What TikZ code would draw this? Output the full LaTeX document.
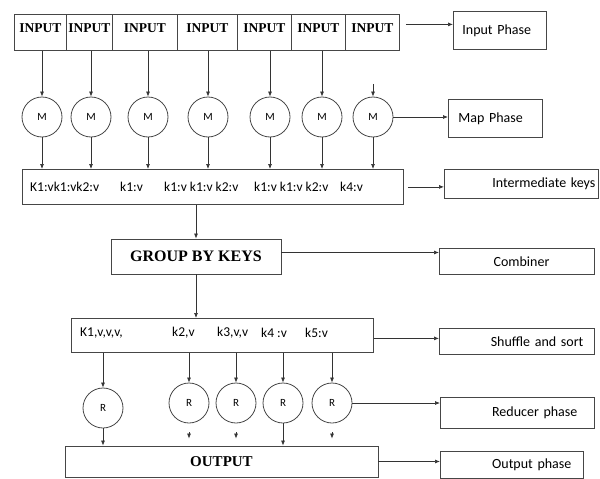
\documentclass[tikz,border=0pt]{standalone}
\usepackage{fontspec}
\setmainfont{Liberation Serif}
\newfontfamily\calib{Carlito}
\usepackage{xcolor}
\definecolor{lineclr}{RGB}{70,70,70}
\usepackage{tikz}
\usetikzlibrary{arrows.meta,positioning,calc}
\tikzset{
  mr_cell/.style={rectangle,draw=lineclr,line width=0.8pt,
    font=\fontsize{13.5}{14}\selectfont\bfseries,
    inner xsep=0pt,inner ysep=4pt,
    text height=14pt,text depth=14pt,
    minimum height=36pt,anchor=north west},
  mr_circ/.style={circle,draw=lineclr,line width=0.8pt,
    minimum size=40pt,inner sep=0pt,
    font=\calib\fontsize{11}{12}\selectfont},
  mr_box/.style={rectangle,draw=lineclr,line width=0.8pt,
    inner sep=0pt,anchor=north west},
  mr_key/.style={inner sep=0pt,anchor=west,
    font=\calib\fontsize{13.5}{15}\selectfont},
  mr_bold/.style={rectangle,draw=lineclr,line width=0.8pt,
    inner sep=0pt,font=\bfseries},
  mr_phase/.style={rectangle,draw=lineclr,line width=0.8pt,
    inner ysep=0pt,anchor=north west,
    font=\calib\fontsize{14}{16}\selectfont},
  arr/.style={-{Latex[length=5pt,width=4pt]},line width=0.7pt,draw=black!80},
}
\begin{document}
\begin{tikzpicture}[x=1pt,y=-1pt]
  \useasboundingbox (0,0) rectangle (600,479);

  \foreach \i/\xa/\xb in {1/14/66,2/66/112,3/112/177,4/177/237,
                          5/237/291,6/291/345,7/345/399}
    \node[mr_cell,minimum width={(\xb-\xa)*1pt}] (in\i) at (\xa,14) {INPUT};

  \foreach \i/\x in {1/42,2/91,3/148,4/208,5/270,6/322,7/373}
    \node[mr_circ] (m\i) at (\x,117) {M};

  \node[mr_box,minimum width=381pt,minimum height=35pt] (keys) at (22,169) {};
  \node[mr_key] (kt1) at (30,187)  {K1:vk1:vk2:v};
  \node[mr_key] (kt2) at (120,187) {k1:v};
  \node[mr_key] (kt3) at (164,187) {k1:v k1:v k2:v};
  \node[mr_key] (kt4) at (254,187) {k1:v k1:v k2:v};
  \node[mr_key] (kt5) at (340,187) {k4:v};

  \node[mr_bold,minimum width=170pt,minimum height=35pt,
        font=\fontsize{16}{18}\selectfont\bfseries] (group) at (196,256.5)
    {GROUP BY KEYS};

  \node[mr_box,minimum width=302pt,minimum height=34pt] (shuffle) at (71,318) {};
  \node[mr_key] (st1) at (80,333)  {K1,v,v,v,};
  \node[mr_key] (st2) at (172,333) {k2,v};
  \node[mr_key] (st3) at (217,333) {k3,v,v};
  \node[mr_key] (st4) at (261,333) {k4 :v};
  \node[mr_key] (st5) at (305,333) {k5:v};

  \node[mr_circ] (r1) at (103,408) {R};
  \foreach \i/\x in {2/189,3/236,4/283,5/332}
    \node[mr_circ] (r\i) at (\x,403) {R};

  \node[mr_bold,minimum width=313pt,minimum height=31pt,
        font=\fontsize{15}{17}\selectfont\bfseries] (output) at (221.5,461.5)
    {OUTPUT};

  \node[mr_phase,minimum height=38pt,text width=75pt,inner xsep=9pt,align=left]
    (inph) at (453,11) {Input Phase};
  \node[mr_phase,minimum height=38pt,text width=74pt,inner xsep=10pt,align=left]
    (mapph) at (448,99) {Map Phase};
  \node[mr_phase,minimum height=29pt,text width=148pt,inner xsep=3pt,align=right]
    (interph) at (444,169) {Intermediate keys};
  \node[mr_phase,minimum height=26pt,text width=65pt,inner xsep=45pt,align=right]
    (comb) at (439,248) {Combiner};
  \node[mr_phase,minimum height=26pt,text width=133pt,inner xsep=11pt,align=right]
    (sortph) at (439,328) {Shuffle and sort};
  \node[mr_phase,minimum height=31pt,text width=120pt,inner xsep=17pt,align=right]
    (redph) at (440,397) {Reducer phase};
  \node[mr_phase,minimum height=27pt,text width=119pt,inner xsep=12pt,align=right]
    (outph) at (440,451) {Output phase};

  \foreach \i in {1,...,6}
    \draw[arr] (m\i |- in\i.south) -- (m\i);
  \draw[arr,shorten <=33pt] (m7 |- in7.south) -- (m7);
  \foreach \i in {1,...,7}
    \draw[arr] (m\i) -- (m\i |- keys.north);
  \draw[arr] (group |- keys.south) -- (group);
  \draw[arr] (group) -- (group |- shuffle.north);
  \foreach \i in {1,...,5}
    \draw[arr] (r\i |- shuffle.south) -- (r\i);
  \draw[arr] (r1) -- (r1 |- output.north);
  \draw[arr] (r4) -- (r4 |- output.north);
  \foreach \i in {2,3,5}
    \draw[arr,shorten <=9pt,shorten >=7pt] (r\i) -- (r\i |- output.north);

  \draw[arr,shorten <=6pt] ([yshift=8pt]in7.east) -- ([yshift=8pt]in7.east -| inph.west);
  \draw[arr] (m7) -- (m7 -| mapph.west);
  \draw[arr,shorten <=4pt] (keys) -- (keys -| interph.west);
  \draw[arr] ([yshift=4pt]group.east) -- ([yshift=4pt]group.east -| comb.west);
  \draw[arr] ([yshift=-3pt]shuffle.east) -- ([yshift=-3pt]shuffle.east -| sortph.west);
  \draw[arr] (r5) -- (r5 -| redph.west);
  \draw[arr] (output) -- (output -| outph.west);

\end{tikzpicture}
\end{document}
